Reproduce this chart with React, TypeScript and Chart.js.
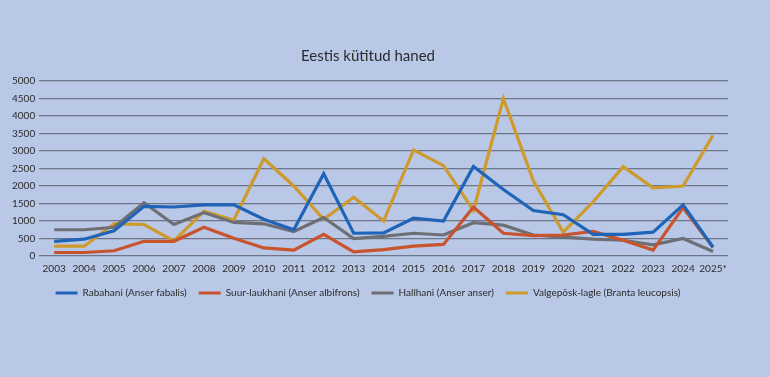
import React, { useEffect, useRef } from "react";
import { Chart, registerables } from "chart.js";

Chart.register(...registerables);

const years = ["2003","2004","2005","2006","2007","2008","2009","2010","2011","2012","2013","2014","2015","2016","2017","2018","2019","2020","2021","2022","2023","2024","2025*"];

const rabahani = [420, 480, 720, 1420, 1400, 1460, 1460, 1050, 750, 2350, 650, 660, 1080, 1000, 2560, 1900, 1300, 1180, 620, 620, 680, 1460, 250];
const suurLaukhani = [100, 100, 150, 420, 420, 820, 510, 230, 170, 620, 120, 180, 280, 330, 1400, 650, 580, 600, 700, 450, 170, 1380, 250];
const hallhani = [750, 750, 820, 1520, 900, 1240, 960, 920, 700, 1100, 500, 560, 650, 600, 950, 880, 600, 540, 480, 450, 320, 500, 130];
const valgeposk = [280, 280, 920, 900, 430, 1280, 1030, 2780, 2000, 1050, 1680, 1000, 3030, 2580, 1300, 4500, 2150, 680, 1550, 2550, 1950, 2000, 3450];

const seriesNames = [
  "Rabahani (Anser fabalis)",
  "Suur-laukhani (Anser albifrons)",
  "Hallhani (Anser anser)",
  "Valgepõsk-lagle (Branta leucopsis)",
];
const seriesColors = ["#1f64b8", "#c8532c", "#6e6f75", "#cf9a2c"];
const seriesData = [rabahani, suurLaukhani, hallhani, valgeposk];

const FONT = "Lato, 'Liberation Sans', sans-serif";

const legendShift = {
  id: "legendShift",
  afterLayout(chart: any) {
    const lg = chart.legend;
    if (lg) {
      lg.top -= 6;
      lg.bottom -= 6;
    }
  },
};

export default function App() {
  const ref = useRef<HTMLCanvasElement | null>(null);

  useEffect(() => {
    document.body.style.margin = "0";
    document.body.style.background = "#b8c8e6";
    const canvas = ref.current;
    if (!canvas) return;
    const chart = new Chart(canvas, {
      type: "line",
      data: {
        labels: years,
        datasets: seriesData.map((d, i) => ({
          label: seriesNames[i],
          data: d,
          borderColor: seriesColors[i],
          backgroundColor: seriesColors[i],
          borderWidth: 3.2,
          pointRadius: 0,
          tension: 0,
        })),
      },
      plugins: [legendShift],
      options: {
        animation: false,
        responsive: false,
        maintainAspectRatio: false,
        layout: { padding: { top: 47, bottom: 63, left: 8, right: 42 } },
        plugins: {
          title: {
            display: true,
            text: "Eestis kütitud haned",
            color: "#2b2b2b",
            font: { family: FONT, size: 15, weight: "normal" },
            padding: { top: 0, bottom: 16 },
          },
          legend: {
            position: "bottom",
            labels: {
              color: "#2b2b2b",
              font: { family: FONT, size: 10 },
              boxWidth: 22,
              boxHeight: 3,
              padding: 12,
              generateLabels: (c: any) => {
                const items = Chart.defaults.plugins.legend.labels.generateLabels(c);
                return items.map((it: any) => ({ ...it, lineWidth: 0 }));
              },
            },
          },
          tooltip: { enabled: false },
        },
        scales: {
          x: {
            offset: true,
            grid: { display: false, drawTicks: false, tickLength: 0 },
            border: { display: false },
            ticks: {
              color: "#2b2b2b",
              font: { family: FONT, size: 10 },
              maxRotation: 0,
              autoSkip: false,
              padding: 7,
            },
          },
          y: {
            min: 0,
            max: 5000,
            grid: {
              color: "rgba(85,90,105,0.75)",
              lineWidth: 1.3,
              drawTicks: false,
            },
            border: { display: false },
            ticks: {
              stepSize: 500,
              autoSkip: false,
              color: "#2b2b2b",
              font: { family: FONT, size: 10 },
              padding: 4,
              callback: (v: any) => String(v),
            },
          },
        },
      },
    });
    return () => chart.destroy();
  }, []);

  return (
    <div style={{ width: 770, height: 377, background: "#b8c8e6" }}>
      <canvas ref={ref} width={770} height={377} style={{ display: "block" }} />
    </div>
  );
}
